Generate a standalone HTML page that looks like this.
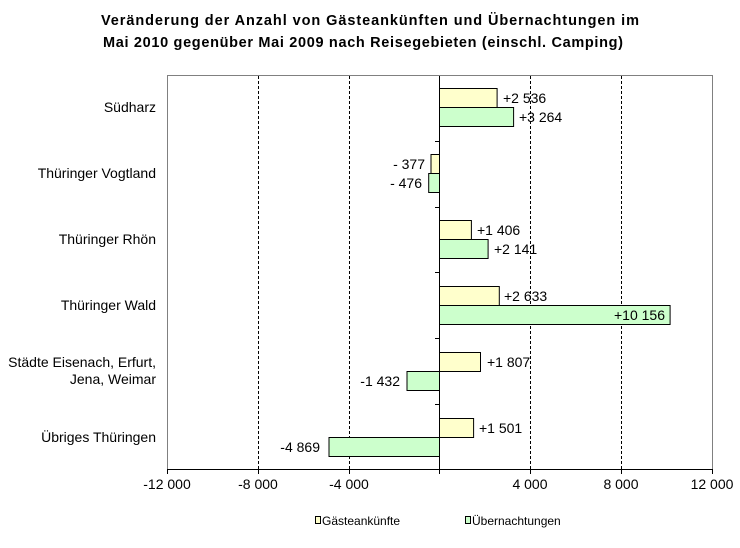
<!DOCTYPE html>
<html><head><meta charset="utf-8"><style>
body{margin:0;background:#fff}
svg text{font-family:"Liberation Sans",Arial,sans-serif;fill:#000}
</style></head><body>
<svg width="740" height="543" viewBox="0 0 740 543" xmlns="http://www.w3.org/2000/svg">
<text x="101" y="25" font-size="14.5" font-weight="bold" textLength="538" lengthAdjust="spacing">Veränderung  der Anzahl von Gästeankünften  und Übernachtungen  im</text>
<text x="103" y="47" font-size="14.5" font-weight="bold" textLength="520" lengthAdjust="spacing">Mai 2010 gegenüber  Mai 2009 nach Reisegebieten  (einschl. Camping)</text>
<rect x="167.5" y="75.5" width="545" height="394" fill="none" stroke="#808080"/>
<g stroke="#000" stroke-dasharray="3,2">
<line x1="258.5" y1="76" x2="258.5" y2="469"/>
<line x1="349.5" y1="76" x2="349.5" y2="469"/>
<line x1="530.5" y1="76" x2="530.5" y2="469"/>
<line x1="621.5" y1="76" x2="621.5" y2="469"/>
</g>
<g stroke="#000" fill="#ffffcc">
<rect x="439.5" y="88.5" width="57.6" height="19"/>
<rect x="431" y="154.5" width="8.5" height="19"/>
<rect x="439.5" y="220.5" width="31.9" height="19"/>
<rect x="439.5" y="286.5" width="59.8" height="19"/>
<rect x="439.5" y="352.5" width="41" height="19"/>
<rect x="439.5" y="418.5" width="34.1" height="19"/>
</g>
<g stroke="#000" fill="#ccffcc">
<rect x="439.5" y="107.5" width="74.1" height="19"/>
<rect x="428.7" y="173.5" width="10.8" height="19"/>
<rect x="439.5" y="239.5" width="48.6" height="19"/>
<rect x="439.5" y="305.5" width="230.6" height="19"/>
<rect x="407" y="371.5" width="32.5" height="19"/>
<rect x="329" y="437.5" width="110.5" height="19"/>
</g>
<g stroke="#000">
<line x1="439.5" y1="76" x2="439.5" y2="470"/>
<line x1="167" y1="469.5" x2="713" y2="469.5"/>
<line x1="435" y1="141.5" x2="439.5" y2="141.5"/>
<line x1="435" y1="207.5" x2="439.5" y2="207.5"/>
<line x1="435" y1="272.5" x2="439.5" y2="272.5"/>
<line x1="435" y1="338.5" x2="439.5" y2="338.5"/>
<line x1="435" y1="404.5" x2="439.5" y2="404.5"/>
<line x1="167.5" y1="469" x2="167.5" y2="474"/><line x1="258.5" y1="469" x2="258.5" y2="474"/><line x1="349.5" y1="469" x2="349.5" y2="474"/><line x1="439.5" y1="469" x2="439.5" y2="474"/><line x1="530.5" y1="469" x2="530.5" y2="474"/><line x1="621.5" y1="469" x2="621.5" y2="474"/><line x1="712.5" y1="469" x2="712.5" y2="474"/>
</g>
<g font-size="14">
<text x="503" y="103">+2 536</text>
<text x="519" y="122">+3 264</text>
<text x="425" y="169" text-anchor="end">- 377</text>
<text x="422" y="188" text-anchor="end">- 476</text>
<text x="477" y="235">+1 406</text>
<text x="494" y="254">+2 141</text>
<text x="504" y="301">+2 633</text>
<text x="665" y="320" text-anchor="end">+10 156</text>
<text x="487" y="367">+1 807</text>
<text x="400" y="386" text-anchor="end">-1 432</text>
<text x="479" y="433">+1 501</text>
<text x="320" y="452" text-anchor="end">-4 869</text>
</g>
<g font-size="14" text-anchor="end">
<text x="156" y="112">Südharz</text>
<text x="156" y="178">Thüringer Vogtland</text>
<text x="156" y="244">Thüringer Rhön</text>
<text x="156" y="310">Thüringer Wald</text>
<text x="156" y="367">Städte Eisenach, Erfurt,</text>
<text x="156" y="384">Jena, Weimar</text>
<text x="156" y="442">Übriges Thüringen</text>
</g>
<g font-size="14" text-anchor="middle">
<text x="167" y="489">-12 000</text><text x="258" y="489">-8 000</text><text x="349" y="489">-4 000</text><text x="530" y="489">4 000</text><text x="621" y="489">8 000</text><text x="712" y="489">12 000</text>
</g>
<rect x="315.5" y="516.5" width="5" height="7" fill="#ffffcc" stroke="#000"/>
<text x="322" y="525" font-size="12">Gästeankünfte</text>
<rect x="465.5" y="516.5" width="5" height="7" fill="#ccffcc" stroke="#000"/>
<text x="472" y="525" font-size="12">Übernachtungen</text>
</svg>
</body></html>
